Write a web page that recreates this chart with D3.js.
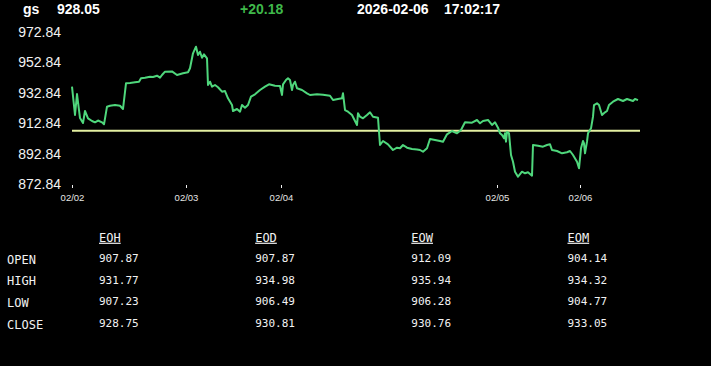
<!DOCTYPE html>
<html>
<head>
<meta charset="utf-8">
<script src="https://d3js.org/d3.v7.min.js"></script>
<style>
  body { margin:0; background:#000; }
  svg { display:block; }
</style>
</head>
<body>
<div id="chart"></div>
<script>
// header
var symbol = 'gs'
var lastPrice = '928.05'
var change = '+20.18'
var stampDate = '2026-02-06'
var stampTime = '17:02:17'

// price series (x = bar index since open of 02/02, y = price)
var barIdx = [0,3,5,8,11,13,16,20,23,26,30,32,35,38,43,48,51,54,58,63,67,69,73,78,81,85,88,90,93,100,105,111,116,118,121,124,126,128,130,132,135,136,138,140,143,146,150,153,156,160,161,165,168,170,173,176,179,183,188,193,197,203,208,210,211,214,216,218,220,221,223,225,230,235,238,245,251,258,261,266,270,271,273,276,280,283,285,286,288,291,295,298,301,306,307,308,311,316,321,325,328,331,335,340,345,348,351,355,358,363,368,371,375,380,385,389,393,400,405,408,411,416,420,423,426,428,430,432,433,434,435,437,439,441,443,446,450,453,456,460,461,466,471,475,478,480,485,490,495,498,501,505,507,509,511,512,513,515,516,519,521,522,525,527,530,533,535,537,541,546,551,555,558,561,563,566]
var price = [936.85,918.23,932.05,916.26,912.97,920.87,916.06,914.29,913.43,914.6,913.43,912.12,923.70,924.35,924.81,924.35,922.18,939.09,939.3,939.75,940.14,942.38,942.77,943.43,943.2,944.09,942.77,944.55,946.72,946.9,944.55,945.67,946.33,948.96,958.83,963.17,957.71,959.88,955.93,958.17,955.54,937.97,940.14,936.85,937.97,936.5,933.56,934.02,929.22,924.81,920.87,922.18,920.41,924.81,923.04,924.81,930.27,931.85,934.68,936.85,938.43,937.51,937.3,931.39,938.43,941.26,942.38,941.26,934.68,937.97,940.14,935.80,934.68,932.51,931.39,931.85,931.6,930.93,928.10,928.76,929.22,932.51,921.52,920.41,918.23,914.29,911.66,919.35,917.12,916.06,918.23,920.01,917.12,916.46,907.25,898.50,901.13,898.96,895.21,896.72,896.33,898.50,896.72,895.87,895.6,895.21,894.09,896.33,902.45,901.79,901.13,900.67,905.54,907.71,906.20,908.37,913.43,913.2,914.95,912.77,914.29,914.95,911.66,913.43,909.88,906.20,905.08,902.91,906.20,900.67,907.25,906.20,891.92,887.51,880.93,877.64,880.93,879.88,880.54,878.30,898.50,898.04,897.38,898.50,898.96,895.21,894.55,893.04,893.70,894.55,891.92,887.51,883.17,896.33,901.13,899.62,893.04,900.67,906.20,909.48,917.12,924.81,925.93,924.81,918.23,920.01,920.87,924.81,926.98,928.76,927.45,928.76,928.10,927.45,928.76,928.05]
var refPrice = 907.87

// axes
var yTicks = [872.84,892.84,912.84,932.84,952.84,972.84]
var dayIdx = [0,114,209,425,508]
var dayLabels = ['02/02','02/03','02/04','02/05','02/06']

// stats table
var rowNames = ['OPEN','HIGH','LOW','CLOSE']
var colNames = ['EOH','EOD','EOW','EOM']
var eoh = ['907.87','931.77','907.23','928.75']
var eod = ['907.87','934.98','906.49','930.81']
var eow = ['912.09','935.94','906.28','930.76']
var eom = ['904.14','934.32','904.77','933.05']
var cols = [eoh,eod,eow,eom]

var W = 711, H = 366
var svg = d3.select('#chart').append('svg')
  .attr('width',W).attr('height',H)
  .style('background','#000')

var sans = '"Liberation Sans", Arial, sans-serif'
var mono = '"DejaVu Sans Mono", "Liberation Mono", monospace'

// header line
var head = svg.append('g').attr('font-family',sans).attr('font-size',14).attr('font-weight','bold')
head.append('text').attr('x',23).attr('y',14).attr('fill','#fff').text(symbol)
head.append('text').attr('x',57).attr('y',14).attr('fill','#fff').text(lastPrice)
head.append('text').attr('x',240).attr('y',14).attr('fill','#3fb84a').text(change)
head.append('text').attr('x',357).attr('y',14).attr('fill','#fff').text(stampDate)
head.append('text').attr('x',444).attr('y',14).attr('fill','#fff').text(stampTime)

var x = d3.scaleLinear().domain([0,566]).range([72,638])
var y = d3.scaleLinear().domain([872.84,972.84]).range([184,32])

// y axis
var yAx = svg.append('g')
  .attr('transform','translate(61,0)')
  .call(d3.axisLeft(y).tickValues(yTicks).tickSize(0).tickPadding(0).tickFormat(d3.format('.2f')))
yAx.select('.domain').remove()
yAx.selectAll('text').attr('fill','#f2f2f2').attr('font-family',sans).attr('font-size',14)

// x axis
var xAx = svg.append('g')
  .attr('transform','translate(0,185)')
  .call(d3.axisBottom(x).tickValues(dayIdx).tickSize(3).tickPadding(6)
    .tickFormat(function(d,i){ return dayLabels[i] }))
xAx.select('.domain').remove()
xAx.selectAll('line').attr('stroke','#eee')
xAx.selectAll('text').attr('fill','#e6e6e6').attr('font-family',sans).attr('font-size',9.5)

// reference (open) line
svg.append('line')
  .attr('x1',x(0)).attr('x2',x(568))
  .attr('y1',y(refPrice)).attr('y2',y(refPrice))
  .attr('stroke','#e4f0a2').attr('stroke-width',2)

// price line
var pts = barIdx.map(function(d,i){ return [d, price[i]] })
var line = d3.line().x(function(d){ return x(d[0]) }).y(function(d){ return y(d[1]) })
svg.append('path')
  .datum(pts)
  .attr('d',line)
  .attr('fill','none')
  .attr('stroke','#4fd77c')
  .attr('stroke-width',2)
  .attr('stroke-linejoin','round')

// table
var colX = d3.scalePoint().domain(colNames).range([99,567.5])
var rowY = d3.scalePoint().domain(rowNames).range([258,323])
var tbl = svg.append('g').attr('fill','#f2f2f2')

tbl.selectAll('.rname').data(rowNames).enter().append('text')
  .attr('class','rname')
  .attr('x',7).attr('y',function(d){ return rowY(d)+1.5 })
  .attr('dy','0.35em')
  .attr('font-family',mono).attr('font-size',12)
  .text(function(d){ return d })

tbl.selectAll('.cname').data(colNames).enter().append('text')
  .attr('class','cname')
  .attr('x',function(d){ return colX(d) }).attr('y',237.5)
  .attr('dy','0.35em')
  .attr('font-family',mono).attr('font-size',12)
  .attr('text-decoration','underline')
  .text(function(d){ return d })

cols.forEach(function(c,ci){
  tbl.selectAll('.v'+ci).data(c).enter().append('text')
    .attr('class','v'+ci)
    .attr('x',colX(colNames[ci]))
    .attr('y',function(d,ri){ return rowY(rowNames[ri]) })
    .attr('dy','0.35em')
    .attr('font-family',mono).attr('font-size',11)
    .text(function(d){ return d })
})
</script>
</body>
</html>
